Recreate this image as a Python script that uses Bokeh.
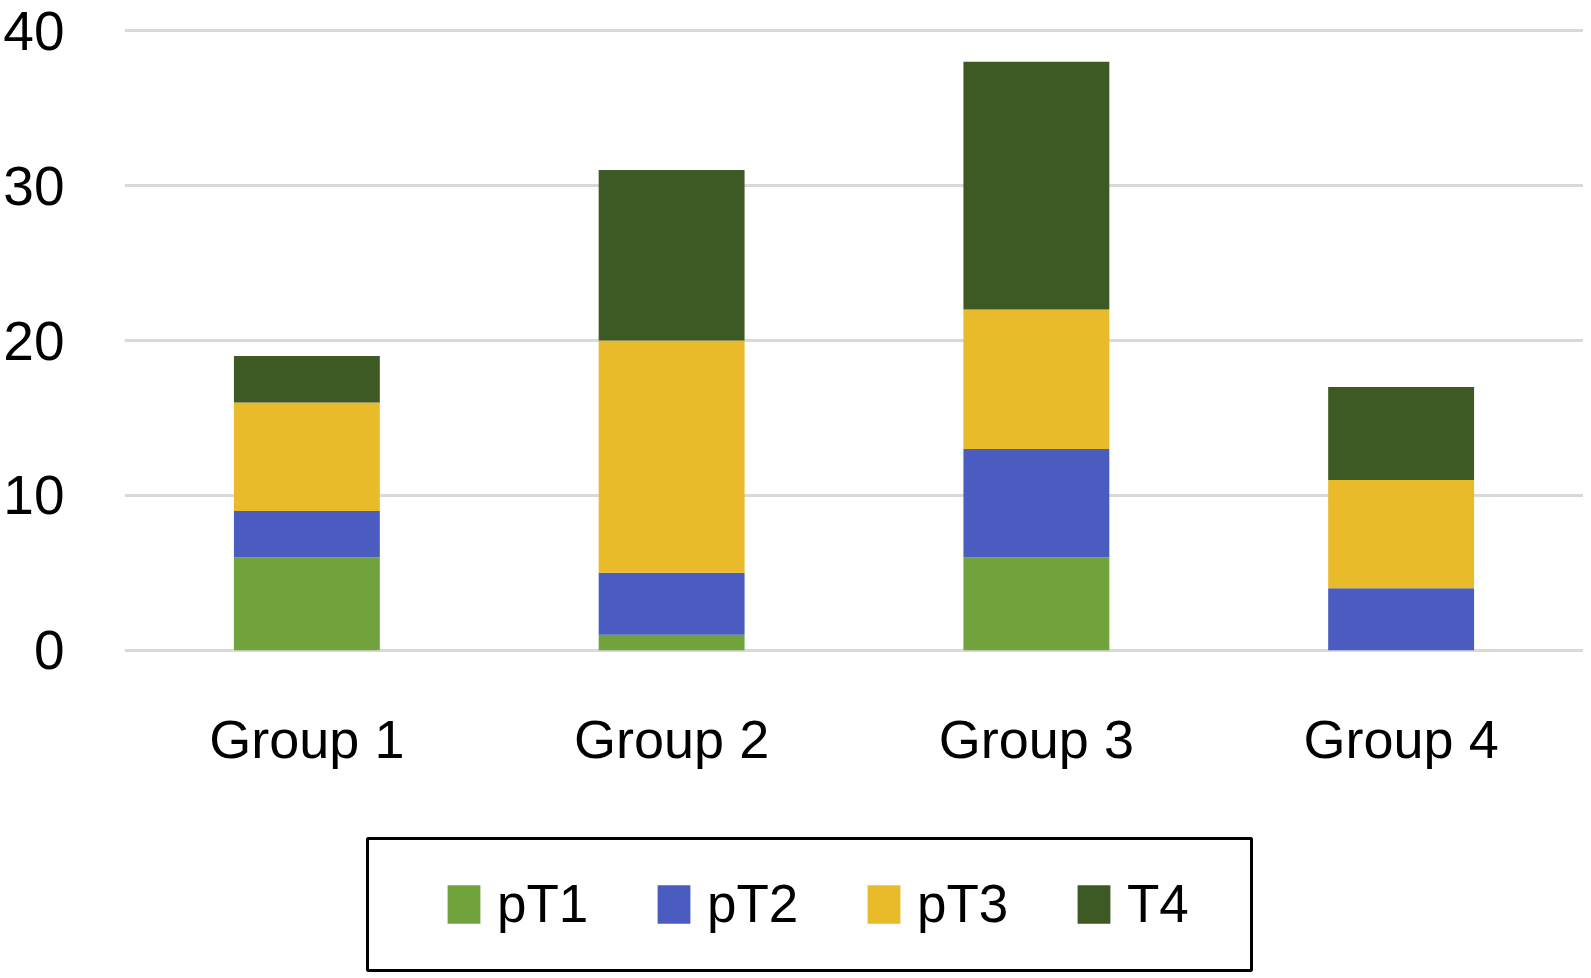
from bokeh.plotting import figure
from bokeh.layouts import column
from bokeh.models import (FactorRange, Range1d, FixedTicker, Legend, LegendItem,
                          ColumnDataSource, BoxAnnotation)
from bokeh.embed import file_html
from bokeh.resources import INLINE

groups = ["Group 1", "Group 2", "Group 3", "Group 4"]
series = ["pT1", "pT2", "pT3", "T4"]
pT1 = [6, 1, 6, 0]
pT2 = [3, 4, 7, 4]
pT3 = [7, 15, 9, 7]
T4 = [3, 11, 16, 6]
colors = ["#70a33c", "#4a5cc0", "#e9bb2a", "#3d5924"]
y_ticks = [0, 10, 20, 30, 40]

source = ColumnDataSource(dict(groups=groups, pT1=pT1, pT2=pT2, pT3=pT3, T4=T4))

# main chart
p = figure(width=1583, height=786, x_range=FactorRange(*groups), y_range=Range1d(-0.4, 40.4),
           output_backend="svg", toolbar_location=None,
           min_border_left=122, min_border_right=0, min_border_top=24, min_border_bottom=130)
p.outline_line_color = None
p.background_fill_color = "white"
p.border_fill_color = "white"

p.vbar_stack(series, x="groups", width=0.4, color=colors, source=source, line_color=None)

p.yaxis.ticker = FixedTicker(ticks=y_ticks)
p.ygrid.grid_line_color = "#d9d9d9"
p.ygrid.grid_line_width = 3
p.ygrid.level = "underlay"
p.xgrid.grid_line_color = None
for ax in (p.xaxis[0], p.yaxis[0]):
    ax.axis_line_color = None
    ax.major_tick_line_color = None
    ax.minor_tick_line_color = None
    ax.major_tick_out = 0
    ax.major_tick_in = 0
    ax.major_label_text_font = "Liberation Sans"
    ax.major_label_text_color = "black"
p.yaxis.major_label_text_font_size = "55px"
p.yaxis.major_label_standoff = 60
p.xaxis.major_label_text_font_size = "54px"
p.xaxis.major_label_standoff = 52

# legend panel (same stacked series, hidden; only the legend shows)
pl = figure(width=1583, height=186, x_range=FactorRange(*groups), y_range=Range1d(-20, -10),
            x_axis_type=None, y_axis_type=None,
            output_backend="svg", toolbar_location=None, min_border=0)
pl.outline_line_color = None
pl.xgrid.grid_line_color = None
pl.ygrid.grid_line_color = None
legend_renderers = pl.vbar_stack(series, x="groups", width=0.4, color=colors,
                                 source=source, line_color=None)
for r in legend_renderers:
    r.visible = False

legend = Legend(items=[LegendItem(label=s, renderers=[r]) for s, r in zip(series, legend_renderers)],
                orientation="horizontal", location=(309, 28), click_policy="none",
                border_line_alpha=0, background_fill_alpha=0,
                padding=10, spacing=56, margin=0,
                glyph_width=41, glyph_height=48, label_standoff=13, label_width=100,
                label_text_font="Liberation Sans", label_text_font_size="53px",
                label_text_color="black")
pl.add_layout(legend, "center")

legend_box = BoxAnnotation(left=367, right=1251, top=52, bottom=184,
                           left_units="canvas", right_units="canvas",
                           top_units="canvas", bottom_units="canvas",
                           fill_alpha=0, line_color="black", line_width=3, line_alpha=1,
                           level="overlay")
pl.add_layout(legend_box)

layout = column(p, pl, spacing=0)
open("out.html", "w").write(file_html(layout, INLINE))
